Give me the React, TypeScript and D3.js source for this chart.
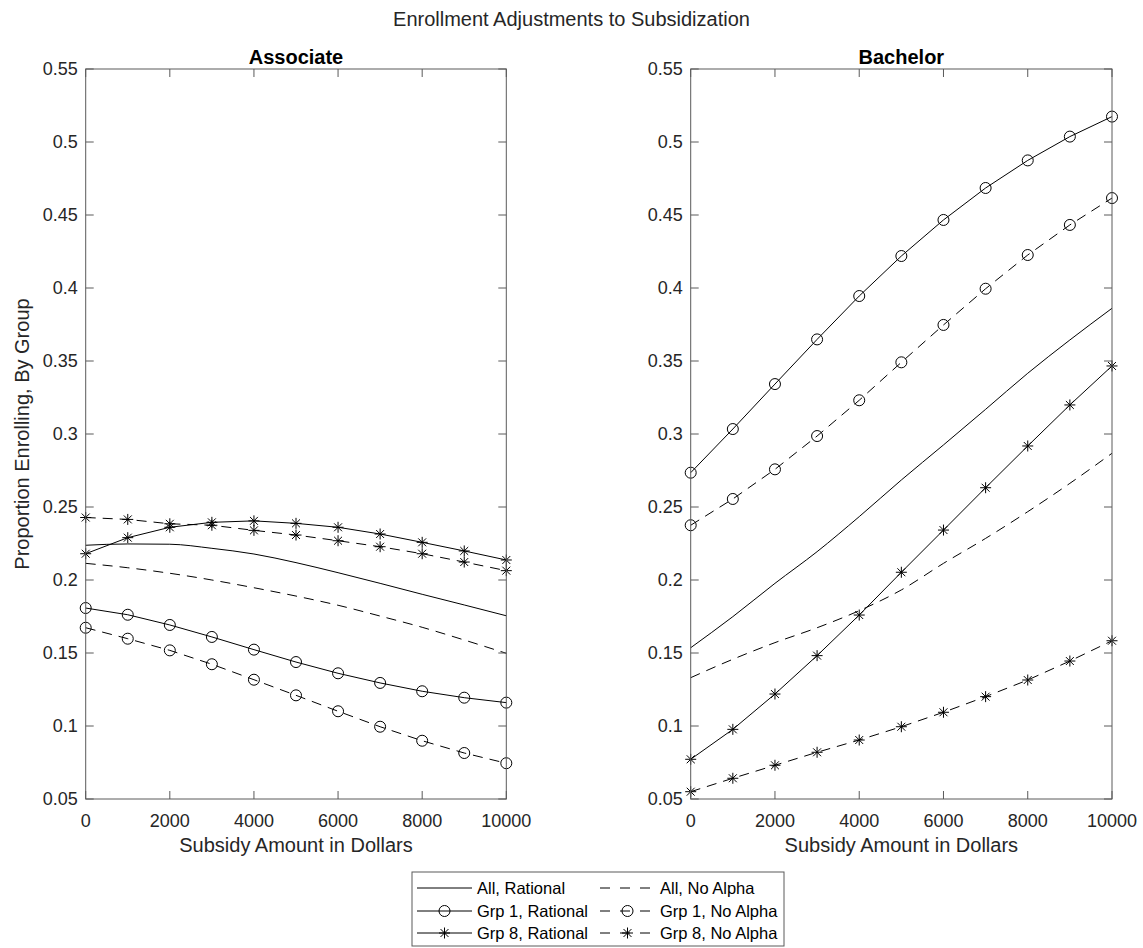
import React from 'react';
import * as d3 from 'd3';

const subsidy = [0, 1000, 2000, 3000, 4000, 5000, 6000, 7000, 8000, 9000, 10000];
const xTicks = [0, 2000, 4000, 6000, 8000, 10000];
const xTickLabels = ['0', '2000', '4000', '6000', '8000', '10000'];
const yTicks = [0.05, 0.1, 0.15, 0.2, 0.25, 0.3, 0.35, 0.4, 0.45, 0.5, 0.55];
const yTickLabels = ['0.05', '0.1', '0.15', '0.2', '0.25', '0.3', '0.35', '0.4', '0.45', '0.5', '0.55'];

const seriesNames = ['All, Rational', 'All, No Alpha', 'Grp 1, Rational', 'Grp 1, No Alpha', 'Grp 8, Rational', 'Grp 8, No Alpha'];
const seriesDashed = [false, true, false, true, false, true];
const seriesMarker = ['none', 'none', 'circle', 'circle', 'star', 'star'];

// Associate panel
const assocAllRational = [0.2238, 0.2247, 0.2245, 0.2217, 0.2178, 0.2119, 0.2050, 0.1977, 0.1902, 0.1829, 0.1755];
const assocAllNoAlpha = [0.2114, 0.2084, 0.2046, 0.2000, 0.1947, 0.1890, 0.1827, 0.1753, 0.1676, 0.1589, 0.1498];
const assocG1Rational = [0.1808, 0.1762, 0.1692, 0.1610, 0.1523, 0.1438, 0.1361, 0.1295, 0.1238, 0.1194, 0.1160];
const assocG1NoAlpha = [0.1673, 0.1598, 0.1518, 0.1423, 0.1317, 0.1210, 0.1101, 0.0995, 0.0899, 0.0815, 0.0745];
const assocG8Rational = [0.2180, 0.2290, 0.2361, 0.2395, 0.2405, 0.2388, 0.2361, 0.2315, 0.2258, 0.2199, 0.2137];
const assocG8NoAlpha = [0.2428, 0.2415, 0.2385, 0.2375, 0.2340, 0.2308, 0.2269, 0.2228, 0.2180, 0.2123, 0.2064];

// Bachelor panel
const bachAllRational = [0.1536, 0.1749, 0.1977, 0.2194, 0.2434, 0.2685, 0.2925, 0.3169, 0.3416, 0.3644, 0.3861];
const bachAllNoAlpha = [0.1331, 0.1457, 0.1571, 0.1673, 0.1790, 0.1932, 0.2114, 0.2285, 0.2468, 0.2662, 0.2868];
const bachG1Rational = [0.2735, 0.3034, 0.3342, 0.3648, 0.3945, 0.4219, 0.4466, 0.4685, 0.4874, 0.5037, 0.5174];
const bachG1NoAlpha = [0.2375, 0.2555, 0.2758, 0.2986, 0.3231, 0.3491, 0.3747, 0.3995, 0.4226, 0.4432, 0.4616];
const bachG8Rational = [0.0772, 0.0977, 0.1219, 0.1482, 0.1760, 0.2053, 0.2342, 0.2632, 0.2918, 0.3199, 0.3466];
const bachG8NoAlpha = [0.0550, 0.0642, 0.0731, 0.0820, 0.0904, 0.0995, 0.1094, 0.1201, 0.1315, 0.1445, 0.1584];

const assocSeries = [assocAllRational, assocAllNoAlpha, assocG1Rational, assocG1NoAlpha, assocG8Rational, assocG8NoAlpha];
const bachSeries = [bachAllRational, bachAllNoAlpha, bachG1Rational, bachG1NoAlpha, bachG8Rational, bachG8NoAlpha];

const FONT = '"Liberation Sans", Arial, Helvetica, sans-serif';
const TXT = '#262626';
const AX = '#5a5a5a';
const DASH = '10 7';
const MR = 5.5;

function starPath(cx: number, cy: number, r: number) {
  const d = r * 0.72;
  return `M${cx - r},${cy}H${cx + r}M${cx},${cy - r}V${cy + r}` +
    `M${cx - d},${cy - d}L${cx + d},${cy + d}M${cx - d},${cy + d}L${cx + d},${cy - d}`;
}

function Marker({ kind, cx, cy }: { kind: string; cx: number; cy: number }) {
  if (kind === 'circle') return <circle cx={cx} cy={cy} r={MR} fill="none" stroke="#000" strokeWidth={1} />;
  if (kind === 'star') return <path d={starPath(cx, cy, MR)} fill="none" stroke="#000" strokeWidth={1} />;
  return null;
}

const yScale = d3.scaleLinear().domain([0.05, 0.55]).range([799, 69]);

function Panel({ left, right, title, series }: { left: number; right: number; title: string; series: number[][] }) {
  const x = d3.scaleLinear().domain([0, 10000]).range([left, right]);
  const top = yScale(0.55);
  const bottom = yScale(0.05);
  const tl = 8;
  return (
    <g>
      {series.map((vals, i) => {
        const pts = subsidy.map((s, j) => [x(s), yScale(vals[j])] as [number, number]);
        const curve = seriesMarker[i] === 'none' ? d3.curveMonotoneX : d3.curveLinear;
        const line = d3.line().curve(curve)(pts) || '';
        return (
          <g key={i}>
            <path d={line} fill="none" stroke="#000" strokeWidth={1} strokeDasharray={seriesDashed[i] ? DASH : undefined} />
            {pts.map((p, j) => <Marker key={j} kind={seriesMarker[i]} cx={p[0]} cy={p[1]} />)}
          </g>
        );
      })}
      {/* box */}
      <rect x={left} y={top} width={right - left} height={bottom - top} fill="none" stroke={AX} strokeWidth={1} />
      {xTicks.map((t, i) => (
        <g key={'x' + i}>
          <line x1={x(t)} x2={x(t)} y1={bottom} y2={bottom - tl} stroke={AX} />
          <line x1={x(t)} x2={x(t)} y1={top} y2={top + tl} stroke={AX} />
          <text x={x(t)} y={821} textAnchor="middle" dominantBaseline="central" fontSize={18} fill={TXT} fontFamily={FONT}>{xTickLabels[i]}</text>
        </g>
      ))}
      {yTicks.map((t, i) => (
        <g key={'y' + i}>
          <line x1={left} x2={left + tl} y1={yScale(t)} y2={yScale(t)} stroke={AX} />
          <line x1={right} x2={right - tl} y1={yScale(t)} y2={yScale(t)} stroke={AX} />
          <text x={left - 8} y={yScale(t)} textAnchor="end" dominantBaseline="central" fontSize={18} fill={TXT} fontFamily={FONT}>{yTickLabels[i]}</text>
        </g>
      ))}
      <text x={(left + right) / 2} y={845} textAnchor="middle" dominantBaseline="central" fontSize={20} fill={TXT} fontFamily={FONT}>Subsidy Amount in Dollars</text>
      <text x={(left + right) / 2} y={57} textAnchor="middle" dominantBaseline="central" fontSize={20} fontWeight="bold" fill="#000" fontFamily={FONT}>{title}</text>
    </g>
  );
}

function Legend() {
  const bx = 412, by = 872, bw = 372, bh = 74;
  const rowY = [888, 911, 933];
  const colX = [417, 600];
  const sampleW = 55;
  return (
    <g>
      <rect x={bx} y={by} width={bw} height={bh} fill="#fff" stroke={AX} strokeWidth={1} />
      {seriesNames.map((name, i) => {
        const col = i % 2;
        const row = Math.floor(i / 2);
        const x0 = colX[col];
        const yy = rowY[row];
        return (
          <g key={i}>
            <line x1={x0} x2={x0 + sampleW} y1={yy} y2={yy} stroke="#000" strokeWidth={1} strokeDasharray={seriesDashed[i] ? '10 10' : undefined} />
            <Marker kind={seriesMarker[i]} cx={x0 + sampleW / 2} cy={yy} />
            <text x={x0 + sampleW + 5} y={yy} dominantBaseline="central" fontSize={16.5} fill="#000" fontFamily={FONT}>{name}</text>
          </g>
        );
      })}
    </g>
  );
}

export default function App() {
  return (
    <div style={{ position: 'absolute', left: 0, top: 0 }}>
      <svg width={1143} height={948} style={{ display: 'block', background: '#fff' }}>
        <rect width={1143} height={948} fill="#fff" />
        <text x={571.5} y={19} textAnchor="middle" dominantBaseline="central" fontSize={20} fill={TXT} fontFamily={FONT}>Enrollment Adjustments to Subsidization</text>
        <text transform={`translate(22,${yScale(0.3)}) rotate(-90)`} textAnchor="middle" dominantBaseline="central" fontSize={20} fill={TXT} fontFamily={FONT}>Proportion Enrolling, By Group</text>
        <Panel left={85.7} right={506.3} title="Associate" series={assocSeries} />
        <Panel left={690.7} right={1112} title="Bachelor" series={bachSeries} />
        <Legend />
      </svg>
    </div>
  );
}
